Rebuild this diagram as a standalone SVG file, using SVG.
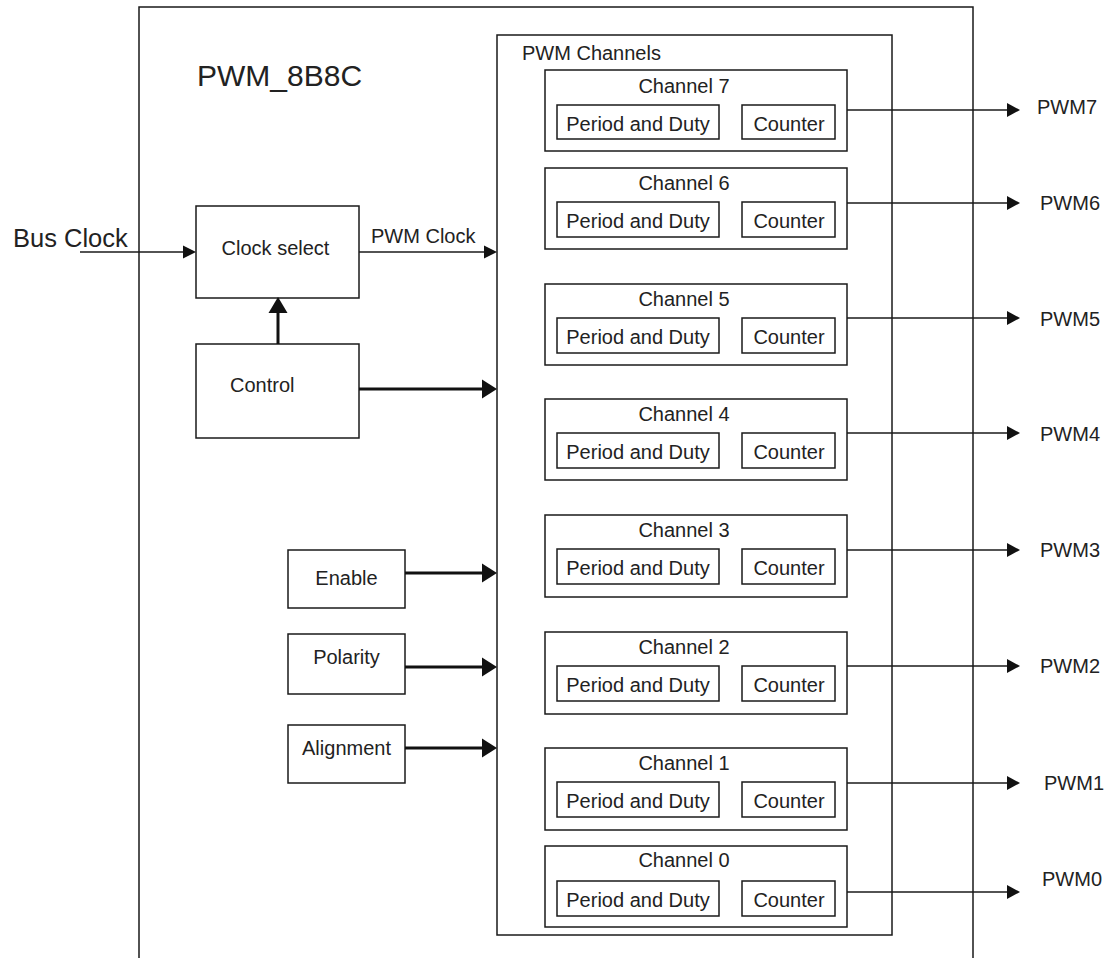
<svg xmlns="http://www.w3.org/2000/svg" width="1106" height="958" viewBox="0 0 1106 958">
<style>
  .box { fill: none; stroke: #1a1a1a; stroke-width: 1.5; }
  .t { font-family: "Liberation Sans", Arial, sans-serif; font-size: 20px; fill: #222; }
  .tm { text-anchor: middle; }
  .thin { fill: none; stroke: #1a1a1a; stroke-width: 1.5; }
  .thick { fill: none; stroke: #111; stroke-width: 3; }
  .head { fill: #111; stroke: none; }
</style>
<rect width="1106" height="958" fill="#fff"/>

<g id="pwm_8b8c">
  <path class="box" d="M139,965 V7 H973 V965"/>
  <text class="t" x="197" y="86" style="font-size:30px">PWM_8B8C</text>
</g>

<g id="bus_clock_label">
  <text class="t" x="13" y="247" style="font-size:25.5px">Bus Clock</text>
</g>

<g id="clock_select">
  <rect class="box" x="196" y="206" width="163" height="92"/>
  <text class="t tm" x="275.5" y="255">Clock select</text>
</g>

<g id="control">
  <rect class="box" x="196" y="344" width="163" height="94"/>
  <text class="t" x="230" y="392">Control</text>
</g>

<g id="enable">
  <rect class="box" x="288" y="550" width="117" height="58"/>
  <text class="t tm" x="346.5" y="585">Enable</text>
</g>

<g id="polarity">
  <rect class="box" x="288" y="634" width="117" height="60"/>
  <text class="t tm" x="346.5" y="664">Polarity</text>
</g>

<g id="alignment">
  <rect class="box" x="288" y="725" width="117" height="58"/>
  <text class="t tm" x="346.5" y="755">Alignment</text>
</g>

<g id="pwm_channels">
  <rect class="box" x="497" y="35" width="395" height="900"/>
  <text class="t" x="522" y="60">PWM Channels</text>
</g>

<g id="channel7">
  <rect class="box" x="545" y="70" width="302" height="81"/>
  <text class="t tm" x="684" y="93">Channel 7</text>
  <rect class="box" x="557" y="105" width="162" height="34"/>
  <text class="t tm" x="638" y="131">Period and Duty</text>
  <rect class="box" x="742" y="105" width="93" height="34"/>
  <text class="t tm" x="789" y="131">Counter</text>
</g>
<g id="channel6">
  <rect class="box" x="545" y="168" width="302" height="81"/>
  <text class="t tm" x="684" y="190">Channel 6</text>
  <rect class="box" x="557" y="202" width="162" height="35"/>
  <text class="t tm" x="638" y="228">Period and Duty</text>
  <rect class="box" x="742" y="202" width="93" height="35"/>
  <text class="t tm" x="789" y="228">Counter</text>
</g>
<g id="channel5">
  <rect class="box" x="545" y="284" width="302" height="81"/>
  <text class="t tm" x="684" y="306">Channel 5</text>
  <rect class="box" x="557" y="318" width="162" height="35"/>
  <text class="t tm" x="638" y="344">Period and Duty</text>
  <rect class="box" x="742" y="318" width="93" height="35"/>
  <text class="t tm" x="789" y="344">Counter</text>
</g>
<g id="channel4">
  <rect class="box" x="545" y="399" width="302" height="81"/>
  <text class="t tm" x="684" y="421">Channel 4</text>
  <rect class="box" x="557" y="433" width="162" height="35"/>
  <text class="t tm" x="638" y="459">Period and Duty</text>
  <rect class="box" x="742" y="433" width="93" height="35"/>
  <text class="t tm" x="789" y="459">Counter</text>
</g>
<g id="channel3">
  <rect class="box" x="545" y="515" width="302" height="82"/>
  <text class="t tm" x="684" y="537">Channel 3</text>
  <rect class="box" x="557" y="549" width="162" height="35"/>
  <text class="t tm" x="638" y="575">Period and Duty</text>
  <rect class="box" x="742" y="549" width="93" height="35"/>
  <text class="t tm" x="789" y="575">Counter</text>
</g>
<g id="channel2">
  <rect class="box" x="545" y="632" width="302" height="82"/>
  <text class="t tm" x="684" y="654">Channel 2</text>
  <rect class="box" x="557" y="666" width="162" height="35"/>
  <text class="t tm" x="638" y="692">Period and Duty</text>
  <rect class="box" x="742" y="666" width="93" height="35"/>
  <text class="t tm" x="789" y="692">Counter</text>
</g>
<g id="channel1">
  <rect class="box" x="545" y="748" width="302" height="82"/>
  <text class="t tm" x="684" y="770">Channel 1</text>
  <rect class="box" x="557" y="782" width="162" height="35"/>
  <text class="t tm" x="638" y="808">Period and Duty</text>
  <rect class="box" x="742" y="782" width="93" height="35"/>
  <text class="t tm" x="789" y="808">Counter</text>
</g>
<g id="channel0">
  <rect class="box" x="545" y="846" width="302" height="81"/>
  <text class="t tm" x="684" y="867">Channel 0</text>
  <rect class="box" x="557" y="881" width="162" height="35"/>
  <text class="t tm" x="638" y="907">Period and Duty</text>
  <rect class="box" x="742" y="881" width="93" height="35"/>
  <text class="t tm" x="789" y="907">Counter</text>
</g>

<g id="outputs">
  <text class="t" x="1037" y="114">PWM7</text>
  <text class="t" x="1040" y="210">PWM6</text>
  <text class="t" x="1040" y="326">PWM5</text>
  <text class="t" x="1040" y="441">PWM4</text>
  <text class="t" x="1040" y="557">PWM3</text>
  <text class="t" x="1040" y="673">PWM2</text>
  <text class="t" x="1044" y="790">PWM1</text>
  <text class="t" x="1042" y="886">PWM0</text>
</g>

<g id="connectors">
  <!-- Bus clock -->
  <path class="thin" d="M80,252 H184"/>
  <path class="head" d="M196,252 L183,245.5 L183,258.5 Z"/>
  <!-- PWM clock -->
  <path class="thin" d="M359,252 H485"/>
  <text class="t" x="371" y="243">PWM Clock</text>
  <path class="head" d="M497,252 L484,245.5 L484,258.5 Z"/>
  <!-- Control up -->
  <path class="thick" d="M278,344 V310"/>
  <path class="head" d="M278,297 L268.5,313 L287.5,313 Z"/>
  <!-- Control right -->
  <path class="thick" d="M359,389 H484"/>
  <path class="head" d="M497,389 L482,379.5 L482,398.5 Z"/>
  <!-- Enable -->
  <path class="thick" d="M405,573 H484"/>
  <path class="head" d="M497,573 L482,563.5 L482,582.5 Z"/>
  <!-- Polarity -->
  <path class="thick" d="M405,667 H484"/>
  <path class="head" d="M497,667 L482,657.5 L482,676.5 Z"/>
  <!-- Alignment -->
  <path class="thick" d="M405,748 H484"/>
  <path class="head" d="M497,748 L482,738.5 L482,757.5 Z"/>
  <!-- outputs -->
  <path class="thin" d="M847,110 H1009"/>
  <path class="head" d="M1020,110 L1007,103 L1007,117 Z"/>
  <path class="thin" d="M847,203 H1009"/>
  <path class="head" d="M1020,203 L1007,196 L1007,210 Z"/>
  <path class="thin" d="M847,318 H1009"/>
  <path class="head" d="M1020,318 L1007,311 L1007,325 Z"/>
  <path class="thin" d="M847,433 H1009"/>
  <path class="head" d="M1020,433 L1007,426 L1007,440 Z"/>
  <path class="thin" d="M847,550 H1009"/>
  <path class="head" d="M1020,550 L1007,543 L1007,557 Z"/>
  <path class="thin" d="M847,666 H1009"/>
  <path class="head" d="M1020,666 L1007,659 L1007,673 Z"/>
  <path class="thin" d="M847,783 H1009"/>
  <path class="head" d="M1020,783 L1007,776 L1007,790 Z"/>
  <path class="thin" d="M847,892 H1009"/>
  <path class="head" d="M1020,892 L1007,885 L1007,899 Z"/>
</g>
</svg>
